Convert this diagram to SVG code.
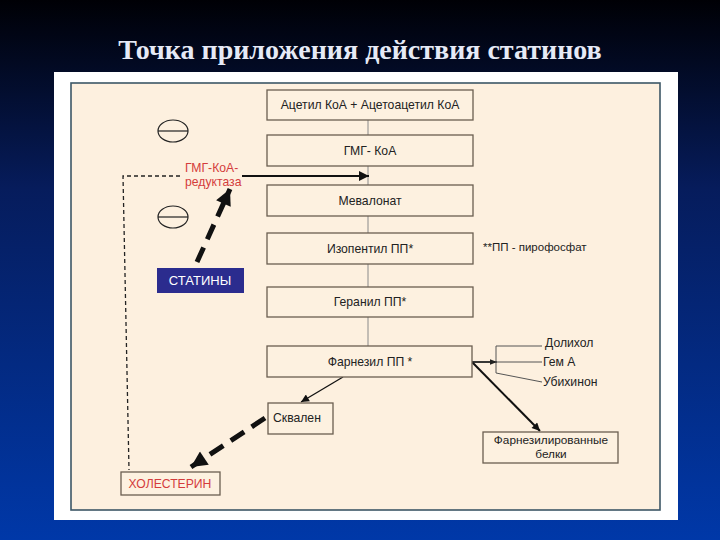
<svg xmlns="http://www.w3.org/2000/svg" width="720" height="540" viewBox="0 0 720 540">
<defs>
<linearGradient id="bg" x1="0" y1="0" x2="0" y2="1">
<stop offset="0" stop-color="#000005"/>
<stop offset="0.35" stop-color="#061c5c"/>
<stop offset="1" stop-color="#0038a8"/>
</linearGradient>
<marker id="ah" viewBox="0 0 10 10" refX="10" refY="5" markerWidth="10" markerHeight="8" markerUnits="userSpaceOnUse" orient="auto">
<path d="M0,0 L10,5 L0,10 z" fill="#111"/>
</marker>
<marker id="ahS" viewBox="0 0 10 10" refX="10" refY="5" markerWidth="16" markerHeight="10" markerUnits="userSpaceOnUse" orient="auto">
<path d="M0,0 L10,5 L0,10 z" fill="#111"/>
</marker>
<marker id="ahB" viewBox="0 0 10 10" refX="10" refY="5" markerWidth="18" markerHeight="16" markerUnits="userSpaceOnUse" orient="auto">
<path d="M0,0 L10,5 L0,10 z" fill="#111"/>
</marker>
<marker id="ahT" viewBox="0 0 10 10" refX="10" refY="5" markerWidth="7" markerHeight="7" markerUnits="userSpaceOnUse" orient="auto">
<path d="M0,1 L10,5 L0,9 z" fill="#222"/>
</marker>
</defs>
<style>
.box{fill:#fdf1e0;stroke:#6b5e50;stroke-width:1.3}
.t{font-family:"Liberation Sans",Arial,sans-serif;font-size:12.2px;fill:#222}
.red{fill:#d43c3c}
.vl{stroke:#8a8a8a;stroke-width:1;fill:none}
.thin{stroke:#555;stroke-width:1;fill:none}
</style>
<rect x="0" y="0" width="720" height="540" fill="url(#bg)"/>
<text x="360" y="59" text-anchor="middle" font-family="'Liberation Serif','Times New Roman',serif" font-weight="bold" font-size="28" fill="#e6eaf6">Точка приложения действия статинов</text>
<rect x="54" y="72" width="624" height="448" fill="#ffffff"/>
<rect x="71" y="83" width="589" height="427" fill="#fdf0df" stroke="#3c5766" stroke-width="1.6"/>

<g id="connectors">
<line class="vl" x1="368" y1="120" x2="368" y2="135"/>
<line class="vl" x1="368" y1="166" x2="368" y2="185"/>
<line class="vl" x1="368" y1="216" x2="368" y2="233"/>
<line class="vl" x1="368" y1="264" x2="368" y2="287"/>
<line class="vl" x1="368" y1="317" x2="368" y2="346"/>
<line x1="242" y1="176" x2="369" y2="176" stroke="#111" stroke-width="1.8" marker-end="url(#ahS)"/>
<path d="M180,176 L123,176 L129,470" fill="none" stroke="#222" stroke-width="1.3" stroke-dasharray="4,3"/>
<line x1="197" y1="262" x2="230" y2="189" stroke="#111" stroke-width="5" stroke-dasharray="16,9" marker-end="url(#ahB)"/>
<line x1="265" y1="418" x2="191" y2="467" stroke="#111" stroke-width="5" stroke-dasharray="16,9" marker-end="url(#ahB)"/>
<line x1="343" y1="377" x2="301" y2="402" stroke="#111" stroke-width="1.3" marker-end="url(#ah)"/>
<line x1="472" y1="362" x2="540" y2="431" stroke="#111" stroke-width="2" marker-end="url(#ah)"/>
<line x1="472" y1="362" x2="497" y2="362" stroke="#222" stroke-width="1.8" marker-end="url(#ahT)"/>
<path class="thin" d="M542,346 L496,346 L496,373 L542,382"/>
<line class="thin" x1="496" y1="362" x2="542" y2="362"/>
</g>

<g id="n-acetyl"><rect class="box" x="267" y="90" width="206" height="30"/><text class="t" x="370" y="109" text-anchor="middle">Ацетил КоА + Ацетоацетил КоА</text></g>
<g id="n-hmg"><rect class="box" x="267" y="135" width="206" height="31"/><text class="t" x="370" y="155" text-anchor="middle">ГМГ- КоА</text></g>
<g id="n-mevalonate"><rect class="box" x="267" y="185" width="206" height="31"/><text class="t" x="370" y="205" text-anchor="middle">Мевалонат</text></g>
<g id="n-isopentyl"><rect class="box" x="267" y="233" width="206" height="31"/><text class="t" x="370" y="253" text-anchor="middle">Изопентил ПП*</text></g>
<g id="n-geranyl"><rect class="box" x="267" y="287" width="206" height="30"/><text class="t" x="370" y="306" text-anchor="middle">Геранил ПП*</text></g>
<g id="n-farnesyl"><rect class="box" x="267" y="346" width="205" height="31"/><text class="t" x="370" y="366" text-anchor="middle">Фарнезил ПП *</text></g>
<g id="n-squalene"><rect class="box" x="268" y="403" width="65" height="31"/><text class="t" x="273" y="422">Сквален</text></g>
<g id="n-farnprot"><rect class="box" x="483" y="432" width="135" height="31"/><text class="t" x="551" y="444" text-anchor="middle" style="font-size:11.8px">Фарнезилированные</text><text class="t" x="551" y="457.5" text-anchor="middle" style="font-size:11.8px">белки</text></g>
<g id="n-cholesterol"><rect class="box" x="121" y="472" width="99" height="23"/><text class="t red" x="170" y="488" text-anchor="middle">ХОЛЕСТЕРИН</text></g>
<g id="n-statins"><rect x="157" y="268" width="87" height="25" fill="#2b2c8e"/><text class="t" x="200" y="285" text-anchor="middle" style="fill:#fff;font-size:13px">СТАТИНЫ</text></g>
<g id="n-reductase"><text class="t red" x="185" y="172">ГМГ-КоА-</text><text class="t red" x="185" y="186">редуктаза</text></g>
<g id="n-minus1"><ellipse cx="173" cy="131" rx="15" ry="11" fill="none" stroke="#222" stroke-width="1.2"/><line x1="158" y1="131" x2="188" y2="131" stroke="#222" stroke-width="1.2"/></g>
<g id="n-minus2"><ellipse cx="173" cy="217" rx="15" ry="11" fill="none" stroke="#222" stroke-width="1.2"/><line x1="158" y1="217" x2="188" y2="217" stroke="#222" stroke-width="1.2"/></g>
<g id="n-note"><text class="t" x="483" y="251" style="font-size:11.5px">**ПП - пирофосфат</text></g>
<g id="n-dolichol"><text class="t" x="545" y="347">Долихол</text></g>
<g id="n-hemA"><text class="t" x="543" y="366">Гем  А</text></g>
<g id="n-ubiquinone"><text class="t" x="543" y="386">Убихинон</text></g>
</svg>
